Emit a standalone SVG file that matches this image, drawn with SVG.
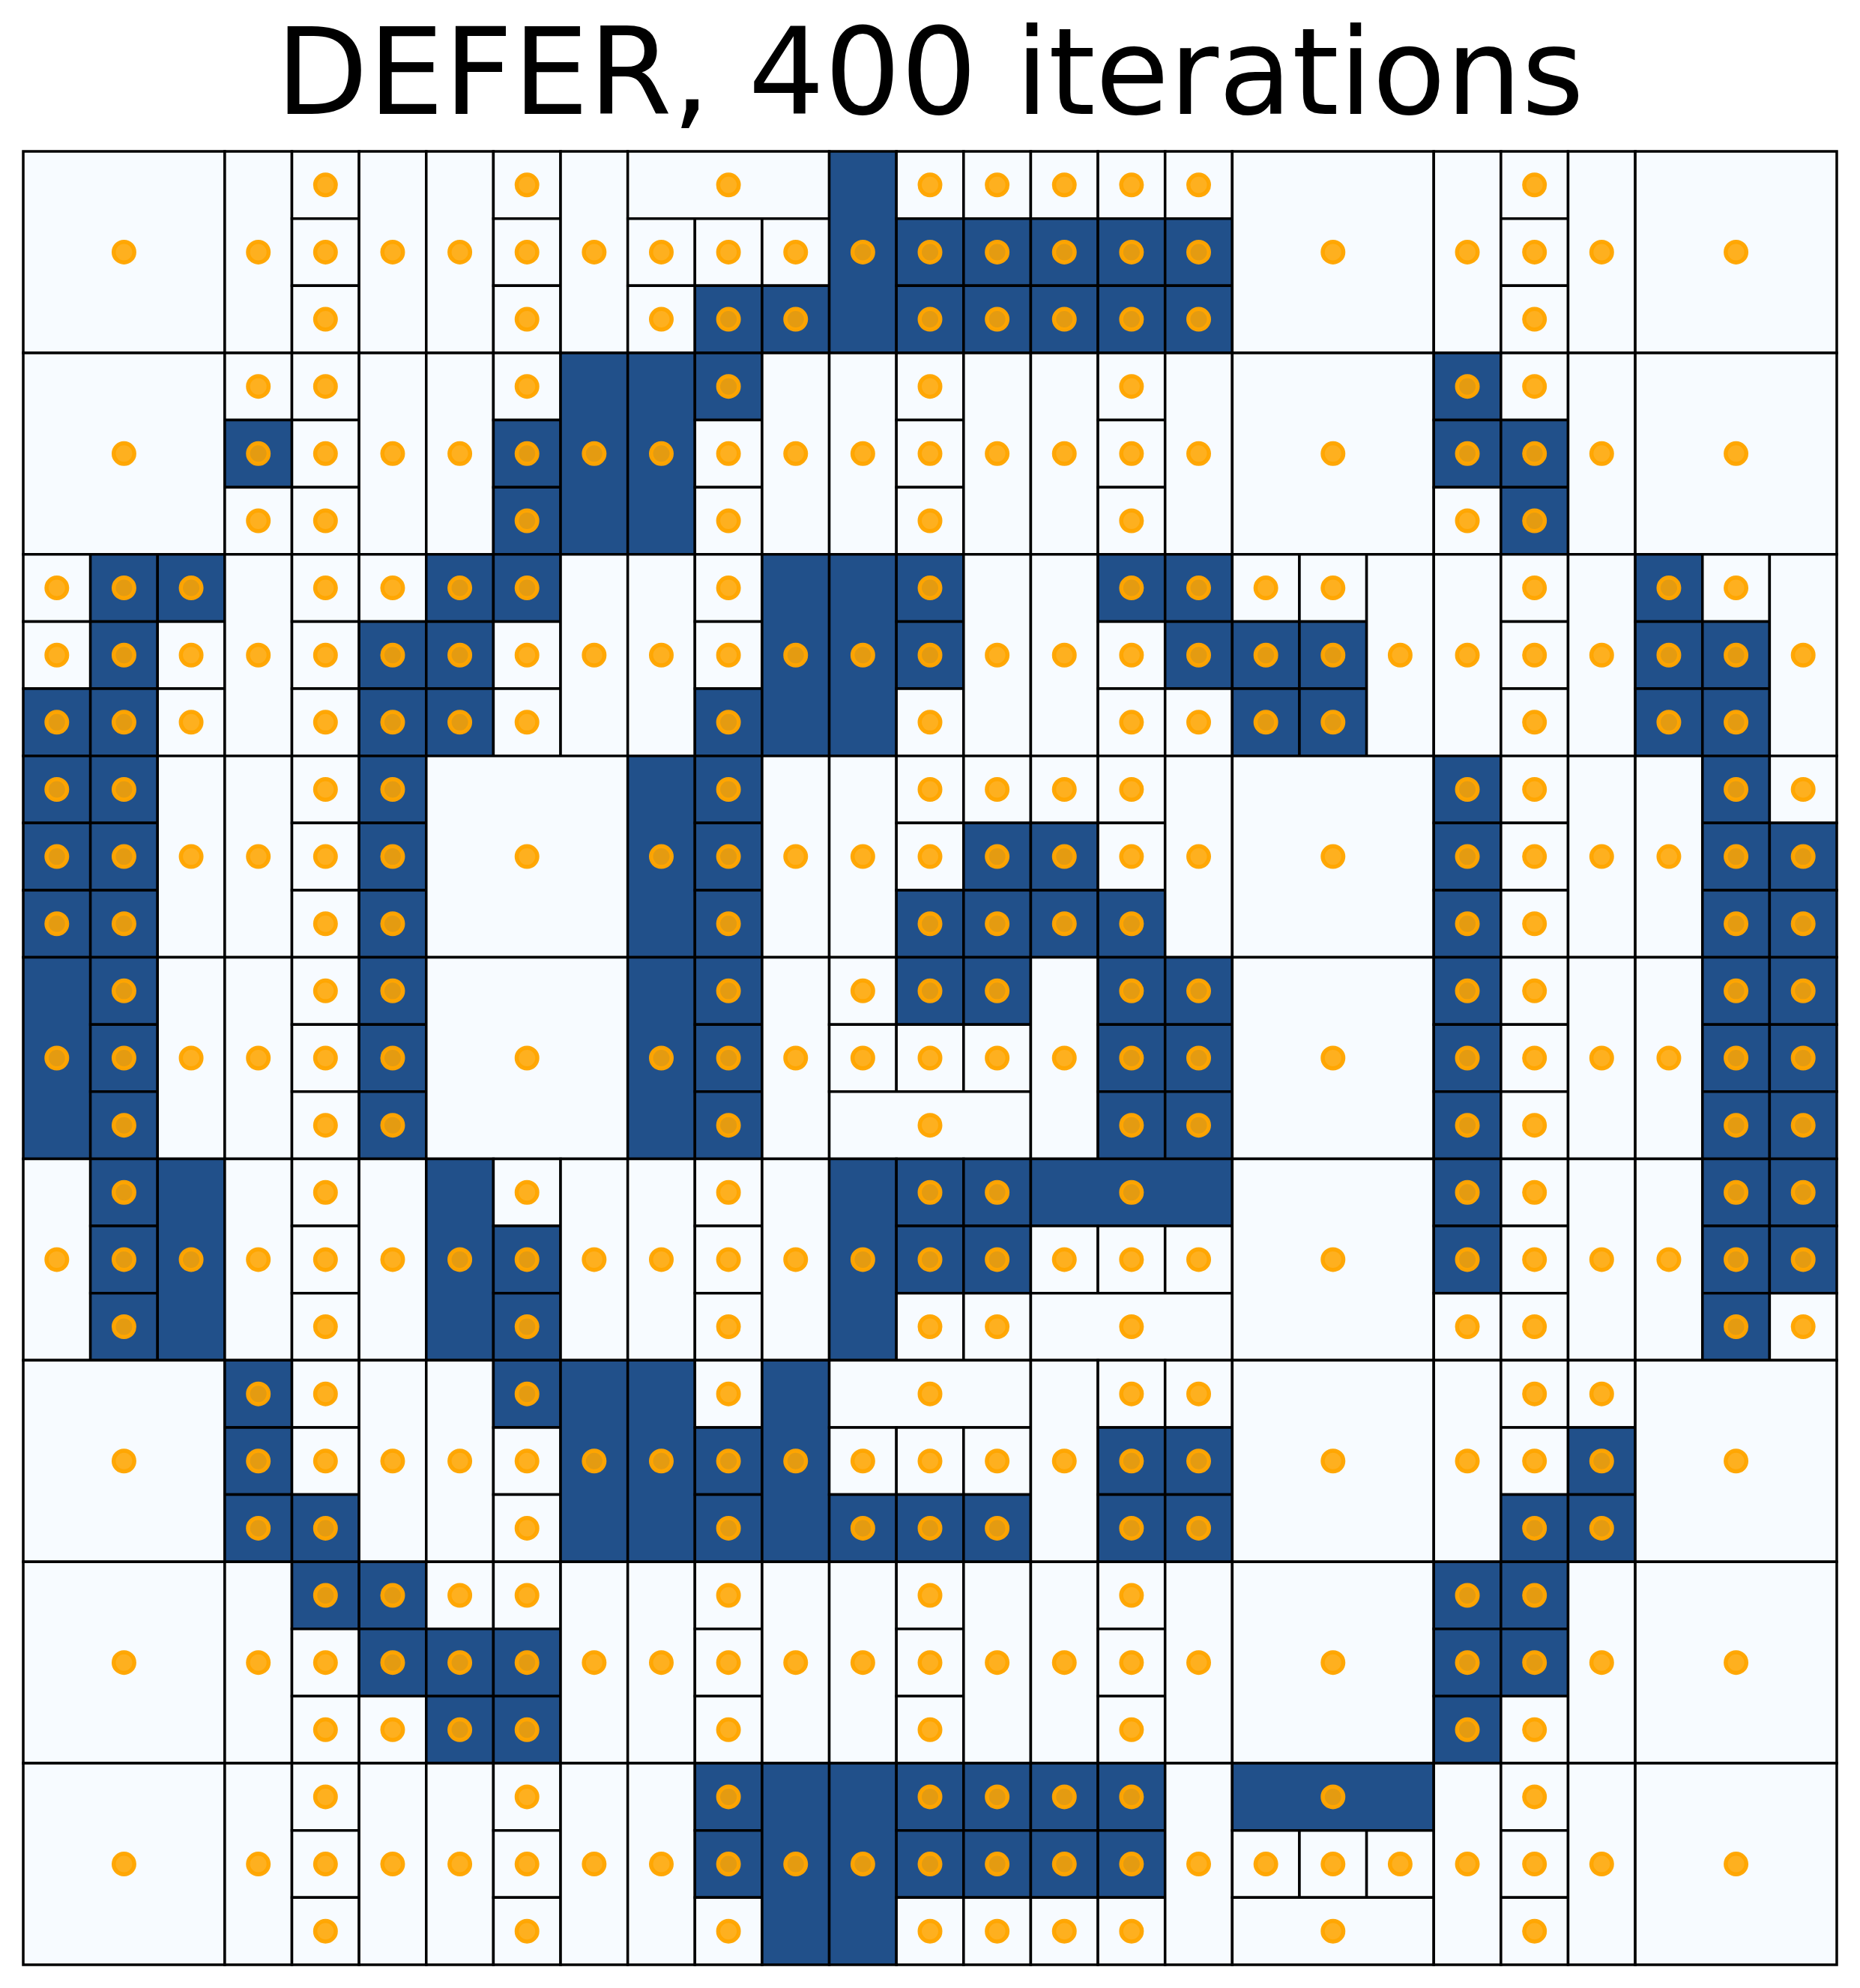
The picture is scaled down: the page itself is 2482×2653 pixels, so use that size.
<svg xmlns="http://www.w3.org/2000/svg" width="2482" height="2653" viewBox="0 0 2482 2653">
<style>
rect{stroke:#000;stroke-width:3.5;vector-effect:non-scaling-stroke}
.L{fill:#f7fbff}
.D{fill:#21508a}
circle{fill:#ffa500;fill-opacity:0.88;stroke:#ffa500;stroke-opacity:0.97;stroke-width:5.5;vector-effect:non-scaling-stroke}
.t{font-family:"DejaVu Sans","Liberation Sans",sans-serif;font-size:160px;fill:#000}
</style>
<rect x="0" y="0" width="2482" height="2653" fill="#ffffff" style="stroke:none"/>
<text class="t" x="1241" y="152" text-anchor="middle">DEFER, 400 iterations</text>
<g id="grid" transform="translate(31 202) scale(89.6296)">
<!-- big row 0 -->
<g id="c-0-0"><rect class="L" x="0" y="0" width="3" height="3"/><circle cx="1.5" cy="1.5" r="0.1534"/></g>
<g id="c-3-0"><rect class="L" x="3" y="0" width="1" height="3"/><circle cx="3.5" cy="1.5" r="0.1534"/></g>
<g id="c-4-0"><rect class="L" x="4" y="0" width="1" height="1"/><circle cx="4.5" cy="0.5" r="0.1534"/></g>
<g id="c-4-1"><rect class="L" x="4" y="1" width="1" height="1"/><circle cx="4.5" cy="1.5" r="0.1534"/></g>
<g id="c-4-2"><rect class="L" x="4" y="2" width="1" height="1"/><circle cx="4.5" cy="2.5" r="0.1534"/></g>
<g id="c-5-0"><rect class="L" x="5" y="0" width="1" height="3"/><circle cx="5.5" cy="1.5" r="0.1534"/></g>
<g id="c-6-0"><rect class="L" x="6" y="0" width="1" height="3"/><circle cx="6.5" cy="1.5" r="0.1534"/></g>
<g id="c-7-0"><rect class="L" x="7" y="0" width="1" height="1"/><circle cx="7.5" cy="0.5" r="0.1534"/></g>
<g id="c-7-1"><rect class="L" x="7" y="1" width="1" height="1"/><circle cx="7.5" cy="1.5" r="0.1534"/></g>
<g id="c-7-2"><rect class="L" x="7" y="2" width="1" height="1"/><circle cx="7.5" cy="2.5" r="0.1534"/></g>
<g id="c-8-0"><rect class="L" x="8" y="0" width="1" height="3"/><circle cx="8.5" cy="1.5" r="0.1534"/></g>
<g id="c-9-0"><rect class="L" x="9" y="0" width="3" height="1"/><circle cx="10.5" cy="0.5" r="0.1534"/></g>
<g id="c-9-1"><rect class="L" x="9" y="1" width="1" height="1"/><circle cx="9.5" cy="1.5" r="0.1534"/></g>
<g id="c-10-1"><rect class="L" x="10" y="1" width="1" height="1"/><circle cx="10.5" cy="1.5" r="0.1534"/></g>
<g id="c-11-1"><rect class="L" x="11" y="1" width="1" height="1"/><circle cx="11.5" cy="1.5" r="0.1534"/></g>
<g id="c-9-2"><rect class="L" x="9" y="2" width="1" height="1"/><circle cx="9.5" cy="2.5" r="0.1534"/></g>
<g id="c-10-2"><rect class="D" x="10" y="2" width="1" height="1"/><circle cx="10.5" cy="2.5" r="0.1534"/></g>
<g id="c-11-2"><rect class="D" x="11" y="2" width="1" height="1"/><circle cx="11.5" cy="2.5" r="0.1534"/></g>
<g id="c-12-0"><rect class="D" x="12" y="0" width="1" height="3"/><circle cx="12.5" cy="1.5" r="0.1534"/></g>
<g id="c-13-0"><rect class="L" x="13" y="0" width="1" height="1"/><circle cx="13.5" cy="0.5" r="0.1534"/></g>
<g id="c-13-1"><rect class="D" x="13" y="1" width="1" height="1"/><circle cx="13.5" cy="1.5" r="0.1534"/></g>
<g id="c-13-2"><rect class="D" x="13" y="2" width="1" height="1"/><circle cx="13.5" cy="2.5" r="0.1534"/></g>
<g id="c-14-0"><rect class="L" x="14" y="0" width="1" height="1"/><circle cx="14.5" cy="0.5" r="0.1534"/></g>
<g id="c-14-1"><rect class="D" x="14" y="1" width="1" height="1"/><circle cx="14.5" cy="1.5" r="0.1534"/></g>
<g id="c-14-2"><rect class="D" x="14" y="2" width="1" height="1"/><circle cx="14.5" cy="2.5" r="0.1534"/></g>
<g id="c-15-0"><rect class="L" x="15" y="0" width="1" height="1"/><circle cx="15.5" cy="0.5" r="0.1534"/></g>
<g id="c-15-1"><rect class="D" x="15" y="1" width="1" height="1"/><circle cx="15.5" cy="1.5" r="0.1534"/></g>
<g id="c-15-2"><rect class="D" x="15" y="2" width="1" height="1"/><circle cx="15.5" cy="2.5" r="0.1534"/></g>
<g id="c-16-0"><rect class="L" x="16" y="0" width="1" height="1"/><circle cx="16.5" cy="0.5" r="0.1534"/></g>
<g id="c-16-1"><rect class="D" x="16" y="1" width="1" height="1"/><circle cx="16.5" cy="1.5" r="0.1534"/></g>
<g id="c-16-2"><rect class="D" x="16" y="2" width="1" height="1"/><circle cx="16.5" cy="2.5" r="0.1534"/></g>
<g id="c-17-0"><rect class="L" x="17" y="0" width="1" height="1"/><circle cx="17.5" cy="0.5" r="0.1534"/></g>
<g id="c-17-1"><rect class="D" x="17" y="1" width="1" height="1"/><circle cx="17.5" cy="1.5" r="0.1534"/></g>
<g id="c-17-2"><rect class="D" x="17" y="2" width="1" height="1"/><circle cx="17.5" cy="2.5" r="0.1534"/></g>
<g id="c-18-0"><rect class="L" x="18" y="0" width="3" height="3"/><circle cx="19.5" cy="1.5" r="0.1534"/></g>
<g id="c-21-0"><rect class="L" x="21" y="0" width="1" height="3"/><circle cx="21.5" cy="1.5" r="0.1534"/></g>
<g id="c-22-0"><rect class="L" x="22" y="0" width="1" height="1"/><circle cx="22.5" cy="0.5" r="0.1534"/></g>
<g id="c-22-1"><rect class="L" x="22" y="1" width="1" height="1"/><circle cx="22.5" cy="1.5" r="0.1534"/></g>
<g id="c-22-2"><rect class="L" x="22" y="2" width="1" height="1"/><circle cx="22.5" cy="2.5" r="0.1534"/></g>
<g id="c-23-0"><rect class="L" x="23" y="0" width="1" height="3"/><circle cx="23.5" cy="1.5" r="0.1534"/></g>
<g id="c-24-0"><rect class="L" x="24" y="0" width="3" height="3"/><circle cx="25.5" cy="1.5" r="0.1534"/></g>
<!-- big row 1 -->
<g id="c-0-3"><rect class="L" x="0" y="3" width="3" height="3"/><circle cx="1.5" cy="4.5" r="0.1534"/></g>
<g id="c-3-3"><rect class="L" x="3" y="3" width="1" height="1"/><circle cx="3.5" cy="3.5" r="0.1534"/></g>
<g id="c-3-4"><rect class="D" x="3" y="4" width="1" height="1"/><circle cx="3.5" cy="4.5" r="0.1534"/></g>
<g id="c-3-5"><rect class="L" x="3" y="5" width="1" height="1"/><circle cx="3.5" cy="5.5" r="0.1534"/></g>
<g id="c-4-3"><rect class="L" x="4" y="3" width="1" height="1"/><circle cx="4.5" cy="3.5" r="0.1534"/></g>
<g id="c-4-4"><rect class="L" x="4" y="4" width="1" height="1"/><circle cx="4.5" cy="4.5" r="0.1534"/></g>
<g id="c-4-5"><rect class="L" x="4" y="5" width="1" height="1"/><circle cx="4.5" cy="5.5" r="0.1534"/></g>
<g id="c-5-3"><rect class="L" x="5" y="3" width="1" height="3"/><circle cx="5.5" cy="4.5" r="0.1534"/></g>
<g id="c-6-3"><rect class="L" x="6" y="3" width="1" height="3"/><circle cx="6.5" cy="4.5" r="0.1534"/></g>
<g id="c-7-3"><rect class="L" x="7" y="3" width="1" height="1"/><circle cx="7.5" cy="3.5" r="0.1534"/></g>
<g id="c-7-4"><rect class="D" x="7" y="4" width="1" height="1"/><circle cx="7.5" cy="4.5" r="0.1534"/></g>
<g id="c-7-5"><rect class="D" x="7" y="5" width="1" height="1"/><circle cx="7.5" cy="5.5" r="0.1534"/></g>
<g id="c-8-3"><rect class="D" x="8" y="3" width="1" height="3"/><circle cx="8.5" cy="4.5" r="0.1534"/></g>
<g id="c-9-3"><rect class="D" x="9" y="3" width="1" height="3"/><circle cx="9.5" cy="4.5" r="0.1534"/></g>
<g id="c-10-3"><rect class="D" x="10" y="3" width="1" height="1"/><circle cx="10.5" cy="3.5" r="0.1534"/></g>
<g id="c-10-4"><rect class="L" x="10" y="4" width="1" height="1"/><circle cx="10.5" cy="4.5" r="0.1534"/></g>
<g id="c-10-5"><rect class="L" x="10" y="5" width="1" height="1"/><circle cx="10.5" cy="5.5" r="0.1534"/></g>
<g id="c-11-3"><rect class="L" x="11" y="3" width="1" height="3"/><circle cx="11.5" cy="4.5" r="0.1534"/></g>
<g id="c-12-3"><rect class="L" x="12" y="3" width="1" height="3"/><circle cx="12.5" cy="4.5" r="0.1534"/></g>
<g id="c-13-3"><rect class="L" x="13" y="3" width="1" height="1"/><circle cx="13.5" cy="3.5" r="0.1534"/></g>
<g id="c-13-4"><rect class="L" x="13" y="4" width="1" height="1"/><circle cx="13.5" cy="4.5" r="0.1534"/></g>
<g id="c-13-5"><rect class="L" x="13" y="5" width="1" height="1"/><circle cx="13.5" cy="5.5" r="0.1534"/></g>
<g id="c-14-3"><rect class="L" x="14" y="3" width="1" height="3"/><circle cx="14.5" cy="4.5" r="0.1534"/></g>
<g id="c-15-3"><rect class="L" x="15" y="3" width="1" height="3"/><circle cx="15.5" cy="4.5" r="0.1534"/></g>
<g id="c-16-3"><rect class="L" x="16" y="3" width="1" height="1"/><circle cx="16.5" cy="3.5" r="0.1534"/></g>
<g id="c-16-4"><rect class="L" x="16" y="4" width="1" height="1"/><circle cx="16.5" cy="4.5" r="0.1534"/></g>
<g id="c-16-5"><rect class="L" x="16" y="5" width="1" height="1"/><circle cx="16.5" cy="5.5" r="0.1534"/></g>
<g id="c-17-3"><rect class="L" x="17" y="3" width="1" height="3"/><circle cx="17.5" cy="4.5" r="0.1534"/></g>
<g id="c-18-3"><rect class="L" x="18" y="3" width="3" height="3"/><circle cx="19.5" cy="4.5" r="0.1534"/></g>
<g id="c-21-3"><rect class="D" x="21" y="3" width="1" height="1"/><circle cx="21.5" cy="3.5" r="0.1534"/></g>
<g id="c-21-4"><rect class="D" x="21" y="4" width="1" height="1"/><circle cx="21.5" cy="4.5" r="0.1534"/></g>
<g id="c-21-5"><rect class="L" x="21" y="5" width="1" height="1"/><circle cx="21.5" cy="5.5" r="0.1534"/></g>
<g id="c-22-3"><rect class="L" x="22" y="3" width="1" height="1"/><circle cx="22.5" cy="3.5" r="0.1534"/></g>
<g id="c-22-4"><rect class="D" x="22" y="4" width="1" height="1"/><circle cx="22.5" cy="4.5" r="0.1534"/></g>
<g id="c-22-5"><rect class="D" x="22" y="5" width="1" height="1"/><circle cx="22.5" cy="5.5" r="0.1534"/></g>
<g id="c-23-3"><rect class="L" x="23" y="3" width="1" height="3"/><circle cx="23.5" cy="4.5" r="0.1534"/></g>
<g id="c-24-3"><rect class="L" x="24" y="3" width="3" height="3"/><circle cx="25.5" cy="4.5" r="0.1534"/></g>
<!-- big row 2 -->
<g id="c-0-6"><rect class="L" x="0" y="6" width="1" height="1"/><circle cx="0.5" cy="6.5" r="0.1534"/></g>
<g id="c-0-7"><rect class="L" x="0" y="7" width="1" height="1"/><circle cx="0.5" cy="7.5" r="0.1534"/></g>
<g id="c-0-8"><rect class="D" x="0" y="8" width="1" height="1"/><circle cx="0.5" cy="8.5" r="0.1534"/></g>
<g id="c-1-6"><rect class="D" x="1" y="6" width="1" height="1"/><circle cx="1.5" cy="6.5" r="0.1534"/></g>
<g id="c-1-7"><rect class="D" x="1" y="7" width="1" height="1"/><circle cx="1.5" cy="7.5" r="0.1534"/></g>
<g id="c-1-8"><rect class="D" x="1" y="8" width="1" height="1"/><circle cx="1.5" cy="8.5" r="0.1534"/></g>
<g id="c-2-6"><rect class="D" x="2" y="6" width="1" height="1"/><circle cx="2.5" cy="6.5" r="0.1534"/></g>
<g id="c-2-7"><rect class="L" x="2" y="7" width="1" height="1"/><circle cx="2.5" cy="7.5" r="0.1534"/></g>
<g id="c-2-8"><rect class="L" x="2" y="8" width="1" height="1"/><circle cx="2.5" cy="8.5" r="0.1534"/></g>
<g id="c-3-6"><rect class="L" x="3" y="6" width="1" height="3"/><circle cx="3.5" cy="7.5" r="0.1534"/></g>
<g id="c-4-6"><rect class="L" x="4" y="6" width="1" height="1"/><circle cx="4.5" cy="6.5" r="0.1534"/></g>
<g id="c-4-7"><rect class="L" x="4" y="7" width="1" height="1"/><circle cx="4.5" cy="7.5" r="0.1534"/></g>
<g id="c-4-8"><rect class="L" x="4" y="8" width="1" height="1"/><circle cx="4.5" cy="8.5" r="0.1534"/></g>
<g id="c-5-6"><rect class="L" x="5" y="6" width="1" height="1"/><circle cx="5.5" cy="6.5" r="0.1534"/></g>
<g id="c-5-7"><rect class="D" x="5" y="7" width="1" height="1"/><circle cx="5.5" cy="7.5" r="0.1534"/></g>
<g id="c-5-8"><rect class="D" x="5" y="8" width="1" height="1"/><circle cx="5.5" cy="8.5" r="0.1534"/></g>
<g id="c-6-6"><rect class="D" x="6" y="6" width="1" height="1"/><circle cx="6.5" cy="6.5" r="0.1534"/></g>
<g id="c-6-7"><rect class="D" x="6" y="7" width="1" height="1"/><circle cx="6.5" cy="7.5" r="0.1534"/></g>
<g id="c-6-8"><rect class="D" x="6" y="8" width="1" height="1"/><circle cx="6.5" cy="8.5" r="0.1534"/></g>
<g id="c-7-6"><rect class="D" x="7" y="6" width="1" height="1"/><circle cx="7.5" cy="6.5" r="0.1534"/></g>
<g id="c-7-7"><rect class="L" x="7" y="7" width="1" height="1"/><circle cx="7.5" cy="7.5" r="0.1534"/></g>
<g id="c-7-8"><rect class="L" x="7" y="8" width="1" height="1"/><circle cx="7.5" cy="8.5" r="0.1534"/></g>
<g id="c-8-6"><rect class="L" x="8" y="6" width="1" height="3"/><circle cx="8.5" cy="7.5" r="0.1534"/></g>
<g id="c-9-6"><rect class="L" x="9" y="6" width="1" height="3"/><circle cx="9.5" cy="7.5" r="0.1534"/></g>
<g id="c-10-6"><rect class="L" x="10" y="6" width="1" height="1"/><circle cx="10.5" cy="6.5" r="0.1534"/></g>
<g id="c-10-7"><rect class="L" x="10" y="7" width="1" height="1"/><circle cx="10.5" cy="7.5" r="0.1534"/></g>
<g id="c-10-8"><rect class="D" x="10" y="8" width="1" height="1"/><circle cx="10.5" cy="8.5" r="0.1534"/></g>
<g id="c-11-6"><rect class="D" x="11" y="6" width="1" height="3"/><circle cx="11.5" cy="7.5" r="0.1534"/></g>
<g id="c-12-6"><rect class="D" x="12" y="6" width="1" height="3"/><circle cx="12.5" cy="7.5" r="0.1534"/></g>
<g id="c-13-6"><rect class="D" x="13" y="6" width="1" height="1"/><circle cx="13.5" cy="6.5" r="0.1534"/></g>
<g id="c-13-7"><rect class="D" x="13" y="7" width="1" height="1"/><circle cx="13.5" cy="7.5" r="0.1534"/></g>
<g id="c-13-8"><rect class="L" x="13" y="8" width="1" height="1"/><circle cx="13.5" cy="8.5" r="0.1534"/></g>
<g id="c-14-6"><rect class="L" x="14" y="6" width="1" height="3"/><circle cx="14.5" cy="7.5" r="0.1534"/></g>
<g id="c-15-6"><rect class="L" x="15" y="6" width="1" height="3"/><circle cx="15.5" cy="7.5" r="0.1534"/></g>
<g id="c-16-6"><rect class="D" x="16" y="6" width="1" height="1"/><circle cx="16.5" cy="6.5" r="0.1534"/></g>
<g id="c-16-7"><rect class="L" x="16" y="7" width="1" height="1"/><circle cx="16.5" cy="7.5" r="0.1534"/></g>
<g id="c-16-8"><rect class="L" x="16" y="8" width="1" height="1"/><circle cx="16.5" cy="8.5" r="0.1534"/></g>
<g id="c-17-6"><rect class="D" x="17" y="6" width="1" height="1"/><circle cx="17.5" cy="6.5" r="0.1534"/></g>
<g id="c-17-7"><rect class="D" x="17" y="7" width="1" height="1"/><circle cx="17.5" cy="7.5" r="0.1534"/></g>
<g id="c-17-8"><rect class="L" x="17" y="8" width="1" height="1"/><circle cx="17.5" cy="8.5" r="0.1534"/></g>
<g id="c-18-6"><rect class="L" x="18" y="6" width="1" height="1"/><circle cx="18.5" cy="6.5" r="0.1534"/></g>
<g id="c-18-7"><rect class="D" x="18" y="7" width="1" height="1"/><circle cx="18.5" cy="7.5" r="0.1534"/></g>
<g id="c-18-8"><rect class="D" x="18" y="8" width="1" height="1"/><circle cx="18.5" cy="8.5" r="0.1534"/></g>
<g id="c-19-6"><rect class="L" x="19" y="6" width="1" height="1"/><circle cx="19.5" cy="6.5" r="0.1534"/></g>
<g id="c-19-7"><rect class="D" x="19" y="7" width="1" height="1"/><circle cx="19.5" cy="7.5" r="0.1534"/></g>
<g id="c-19-8"><rect class="D" x="19" y="8" width="1" height="1"/><circle cx="19.5" cy="8.5" r="0.1534"/></g>
<g id="c-20-6"><rect class="L" x="20" y="6" width="1" height="3"/><circle cx="20.5" cy="7.5" r="0.1534"/></g>
<g id="c-21-6"><rect class="L" x="21" y="6" width="1" height="3"/><circle cx="21.5" cy="7.5" r="0.1534"/></g>
<g id="c-22-6"><rect class="L" x="22" y="6" width="1" height="1"/><circle cx="22.5" cy="6.5" r="0.1534"/></g>
<g id="c-22-7"><rect class="L" x="22" y="7" width="1" height="1"/><circle cx="22.5" cy="7.5" r="0.1534"/></g>
<g id="c-22-8"><rect class="L" x="22" y="8" width="1" height="1"/><circle cx="22.5" cy="8.5" r="0.1534"/></g>
<g id="c-23-6"><rect class="L" x="23" y="6" width="1" height="3"/><circle cx="23.5" cy="7.5" r="0.1534"/></g>
<g id="c-24-6"><rect class="D" x="24" y="6" width="1" height="1"/><circle cx="24.5" cy="6.5" r="0.1534"/></g>
<g id="c-24-7"><rect class="D" x="24" y="7" width="1" height="1"/><circle cx="24.5" cy="7.5" r="0.1534"/></g>
<g id="c-24-8"><rect class="D" x="24" y="8" width="1" height="1"/><circle cx="24.5" cy="8.5" r="0.1534"/></g>
<g id="c-25-6"><rect class="L" x="25" y="6" width="1" height="1"/><circle cx="25.5" cy="6.5" r="0.1534"/></g>
<g id="c-25-7"><rect class="D" x="25" y="7" width="1" height="1"/><circle cx="25.5" cy="7.5" r="0.1534"/></g>
<g id="c-25-8"><rect class="D" x="25" y="8" width="1" height="1"/><circle cx="25.5" cy="8.5" r="0.1534"/></g>
<g id="c-26-6"><rect class="L" x="26" y="6" width="1" height="3"/><circle cx="26.5" cy="7.5" r="0.1534"/></g>
<!-- big row 3 -->
<g id="c-0-9"><rect class="D" x="0" y="9" width="1" height="1"/><circle cx="0.5" cy="9.5" r="0.1534"/></g>
<g id="c-0-10"><rect class="D" x="0" y="10" width="1" height="1"/><circle cx="0.5" cy="10.5" r="0.1534"/></g>
<g id="c-0-11"><rect class="D" x="0" y="11" width="1" height="1"/><circle cx="0.5" cy="11.5" r="0.1534"/></g>
<g id="c-1-9"><rect class="D" x="1" y="9" width="1" height="1"/><circle cx="1.5" cy="9.5" r="0.1534"/></g>
<g id="c-1-10"><rect class="D" x="1" y="10" width="1" height="1"/><circle cx="1.5" cy="10.5" r="0.1534"/></g>
<g id="c-1-11"><rect class="D" x="1" y="11" width="1" height="1"/><circle cx="1.5" cy="11.5" r="0.1534"/></g>
<g id="c-2-9"><rect class="L" x="2" y="9" width="1" height="3"/><circle cx="2.5" cy="10.5" r="0.1534"/></g>
<g id="c-3-9"><rect class="L" x="3" y="9" width="1" height="3"/><circle cx="3.5" cy="10.5" r="0.1534"/></g>
<g id="c-4-9"><rect class="L" x="4" y="9" width="1" height="1"/><circle cx="4.5" cy="9.5" r="0.1534"/></g>
<g id="c-4-10"><rect class="L" x="4" y="10" width="1" height="1"/><circle cx="4.5" cy="10.5" r="0.1534"/></g>
<g id="c-4-11"><rect class="L" x="4" y="11" width="1" height="1"/><circle cx="4.5" cy="11.5" r="0.1534"/></g>
<g id="c-5-9"><rect class="D" x="5" y="9" width="1" height="1"/><circle cx="5.5" cy="9.5" r="0.1534"/></g>
<g id="c-5-10"><rect class="D" x="5" y="10" width="1" height="1"/><circle cx="5.5" cy="10.5" r="0.1534"/></g>
<g id="c-5-11"><rect class="D" x="5" y="11" width="1" height="1"/><circle cx="5.5" cy="11.5" r="0.1534"/></g>
<g id="c-6-9"><rect class="L" x="6" y="9" width="3" height="3"/><circle cx="7.5" cy="10.5" r="0.1534"/></g>
<g id="c-9-9"><rect class="D" x="9" y="9" width="1" height="3"/><circle cx="9.5" cy="10.5" r="0.1534"/></g>
<g id="c-10-9"><rect class="D" x="10" y="9" width="1" height="1"/><circle cx="10.5" cy="9.5" r="0.1534"/></g>
<g id="c-10-10"><rect class="D" x="10" y="10" width="1" height="1"/><circle cx="10.5" cy="10.5" r="0.1534"/></g>
<g id="c-10-11"><rect class="D" x="10" y="11" width="1" height="1"/><circle cx="10.5" cy="11.5" r="0.1534"/></g>
<g id="c-11-9"><rect class="L" x="11" y="9" width="1" height="3"/><circle cx="11.5" cy="10.5" r="0.1534"/></g>
<g id="c-12-9"><rect class="L" x="12" y="9" width="1" height="3"/><circle cx="12.5" cy="10.5" r="0.1534"/></g>
<g id="c-13-9"><rect class="L" x="13" y="9" width="1" height="1"/><circle cx="13.5" cy="9.5" r="0.1534"/></g>
<g id="c-13-10"><rect class="L" x="13" y="10" width="1" height="1"/><circle cx="13.5" cy="10.5" r="0.1534"/></g>
<g id="c-13-11"><rect class="D" x="13" y="11" width="1" height="1"/><circle cx="13.5" cy="11.5" r="0.1534"/></g>
<g id="c-14-9"><rect class="L" x="14" y="9" width="1" height="1"/><circle cx="14.5" cy="9.5" r="0.1534"/></g>
<g id="c-14-10"><rect class="D" x="14" y="10" width="1" height="1"/><circle cx="14.5" cy="10.5" r="0.1534"/></g>
<g id="c-14-11"><rect class="D" x="14" y="11" width="1" height="1"/><circle cx="14.5" cy="11.5" r="0.1534"/></g>
<g id="c-15-9"><rect class="L" x="15" y="9" width="1" height="1"/><circle cx="15.5" cy="9.5" r="0.1534"/></g>
<g id="c-15-10"><rect class="D" x="15" y="10" width="1" height="1"/><circle cx="15.5" cy="10.5" r="0.1534"/></g>
<g id="c-15-11"><rect class="D" x="15" y="11" width="1" height="1"/><circle cx="15.5" cy="11.5" r="0.1534"/></g>
<g id="c-16-9"><rect class="L" x="16" y="9" width="1" height="1"/><circle cx="16.5" cy="9.5" r="0.1534"/></g>
<g id="c-16-10"><rect class="L" x="16" y="10" width="1" height="1"/><circle cx="16.5" cy="10.5" r="0.1534"/></g>
<g id="c-16-11"><rect class="D" x="16" y="11" width="1" height="1"/><circle cx="16.5" cy="11.5" r="0.1534"/></g>
<g id="c-17-9"><rect class="L" x="17" y="9" width="1" height="3"/><circle cx="17.5" cy="10.5" r="0.1534"/></g>
<g id="c-18-9"><rect class="L" x="18" y="9" width="3" height="3"/><circle cx="19.5" cy="10.5" r="0.1534"/></g>
<g id="c-21-9"><rect class="D" x="21" y="9" width="1" height="1"/><circle cx="21.5" cy="9.5" r="0.1534"/></g>
<g id="c-21-10"><rect class="D" x="21" y="10" width="1" height="1"/><circle cx="21.5" cy="10.5" r="0.1534"/></g>
<g id="c-21-11"><rect class="D" x="21" y="11" width="1" height="1"/><circle cx="21.5" cy="11.5" r="0.1534"/></g>
<g id="c-22-9"><rect class="L" x="22" y="9" width="1" height="1"/><circle cx="22.5" cy="9.5" r="0.1534"/></g>
<g id="c-22-10"><rect class="L" x="22" y="10" width="1" height="1"/><circle cx="22.5" cy="10.5" r="0.1534"/></g>
<g id="c-22-11"><rect class="L" x="22" y="11" width="1" height="1"/><circle cx="22.5" cy="11.5" r="0.1534"/></g>
<g id="c-23-9"><rect class="L" x="23" y="9" width="1" height="3"/><circle cx="23.5" cy="10.5" r="0.1534"/></g>
<g id="c-24-9"><rect class="L" x="24" y="9" width="1" height="3"/><circle cx="24.5" cy="10.5" r="0.1534"/></g>
<g id="c-25-9"><rect class="D" x="25" y="9" width="1" height="1"/><circle cx="25.5" cy="9.5" r="0.1534"/></g>
<g id="c-25-10"><rect class="D" x="25" y="10" width="1" height="1"/><circle cx="25.5" cy="10.5" r="0.1534"/></g>
<g id="c-25-11"><rect class="D" x="25" y="11" width="1" height="1"/><circle cx="25.5" cy="11.5" r="0.1534"/></g>
<g id="c-26-9"><rect class="L" x="26" y="9" width="1" height="1"/><circle cx="26.5" cy="9.5" r="0.1534"/></g>
<g id="c-26-10"><rect class="D" x="26" y="10" width="1" height="1"/><circle cx="26.5" cy="10.5" r="0.1534"/></g>
<g id="c-26-11"><rect class="D" x="26" y="11" width="1" height="1"/><circle cx="26.5" cy="11.5" r="0.1534"/></g>
<!-- big row 4 -->
<g id="c-0-12"><rect class="D" x="0" y="12" width="1" height="3"/><circle cx="0.5" cy="13.5" r="0.1534"/></g>
<g id="c-1-12"><rect class="D" x="1" y="12" width="1" height="1"/><circle cx="1.5" cy="12.5" r="0.1534"/></g>
<g id="c-1-13"><rect class="D" x="1" y="13" width="1" height="1"/><circle cx="1.5" cy="13.5" r="0.1534"/></g>
<g id="c-1-14"><rect class="D" x="1" y="14" width="1" height="1"/><circle cx="1.5" cy="14.5" r="0.1534"/></g>
<g id="c-2-12"><rect class="L" x="2" y="12" width="1" height="3"/><circle cx="2.5" cy="13.5" r="0.1534"/></g>
<g id="c-3-12"><rect class="L" x="3" y="12" width="1" height="3"/><circle cx="3.5" cy="13.5" r="0.1534"/></g>
<g id="c-4-12"><rect class="L" x="4" y="12" width="1" height="1"/><circle cx="4.5" cy="12.5" r="0.1534"/></g>
<g id="c-4-13"><rect class="L" x="4" y="13" width="1" height="1"/><circle cx="4.5" cy="13.5" r="0.1534"/></g>
<g id="c-4-14"><rect class="L" x="4" y="14" width="1" height="1"/><circle cx="4.5" cy="14.5" r="0.1534"/></g>
<g id="c-5-12"><rect class="D" x="5" y="12" width="1" height="1"/><circle cx="5.5" cy="12.5" r="0.1534"/></g>
<g id="c-5-13"><rect class="D" x="5" y="13" width="1" height="1"/><circle cx="5.5" cy="13.5" r="0.1534"/></g>
<g id="c-5-14"><rect class="D" x="5" y="14" width="1" height="1"/><circle cx="5.5" cy="14.5" r="0.1534"/></g>
<g id="c-6-12"><rect class="L" x="6" y="12" width="3" height="3"/><circle cx="7.5" cy="13.5" r="0.1534"/></g>
<g id="c-9-12"><rect class="D" x="9" y="12" width="1" height="3"/><circle cx="9.5" cy="13.5" r="0.1534"/></g>
<g id="c-10-12"><rect class="D" x="10" y="12" width="1" height="1"/><circle cx="10.5" cy="12.5" r="0.1534"/></g>
<g id="c-10-13"><rect class="D" x="10" y="13" width="1" height="1"/><circle cx="10.5" cy="13.5" r="0.1534"/></g>
<g id="c-10-14"><rect class="D" x="10" y="14" width="1" height="1"/><circle cx="10.5" cy="14.5" r="0.1534"/></g>
<g id="c-11-12"><rect class="L" x="11" y="12" width="1" height="3"/><circle cx="11.5" cy="13.5" r="0.1534"/></g>
<g id="c-12-12"><rect class="L" x="12" y="12" width="1" height="1"/><circle cx="12.5" cy="12.5" r="0.1534"/></g>
<g id="c-13-12"><rect class="D" x="13" y="12" width="1" height="1"/><circle cx="13.5" cy="12.5" r="0.1534"/></g>
<g id="c-14-12"><rect class="D" x="14" y="12" width="1" height="1"/><circle cx="14.5" cy="12.5" r="0.1534"/></g>
<g id="c-12-13"><rect class="L" x="12" y="13" width="1" height="1"/><circle cx="12.5" cy="13.5" r="0.1534"/></g>
<g id="c-13-13"><rect class="L" x="13" y="13" width="1" height="1"/><circle cx="13.5" cy="13.5" r="0.1534"/></g>
<g id="c-14-13"><rect class="L" x="14" y="13" width="1" height="1"/><circle cx="14.5" cy="13.5" r="0.1534"/></g>
<g id="c-12-14"><rect class="L" x="12" y="14" width="3" height="1"/><circle cx="13.5" cy="14.5" r="0.1534"/></g>
<g id="c-15-12"><rect class="L" x="15" y="12" width="1" height="3"/><circle cx="15.5" cy="13.5" r="0.1534"/></g>
<g id="c-16-12"><rect class="D" x="16" y="12" width="1" height="1"/><circle cx="16.5" cy="12.5" r="0.1534"/></g>
<g id="c-16-13"><rect class="D" x="16" y="13" width="1" height="1"/><circle cx="16.5" cy="13.5" r="0.1534"/></g>
<g id="c-16-14"><rect class="D" x="16" y="14" width="1" height="1"/><circle cx="16.5" cy="14.5" r="0.1534"/></g>
<g id="c-17-12"><rect class="D" x="17" y="12" width="1" height="1"/><circle cx="17.5" cy="12.5" r="0.1534"/></g>
<g id="c-17-13"><rect class="D" x="17" y="13" width="1" height="1"/><circle cx="17.5" cy="13.5" r="0.1534"/></g>
<g id="c-17-14"><rect class="D" x="17" y="14" width="1" height="1"/><circle cx="17.5" cy="14.5" r="0.1534"/></g>
<g id="c-18-12"><rect class="L" x="18" y="12" width="3" height="3"/><circle cx="19.5" cy="13.5" r="0.1534"/></g>
<g id="c-21-12"><rect class="D" x="21" y="12" width="1" height="1"/><circle cx="21.5" cy="12.5" r="0.1534"/></g>
<g id="c-21-13"><rect class="D" x="21" y="13" width="1" height="1"/><circle cx="21.5" cy="13.5" r="0.1534"/></g>
<g id="c-21-14"><rect class="D" x="21" y="14" width="1" height="1"/><circle cx="21.5" cy="14.5" r="0.1534"/></g>
<g id="c-22-12"><rect class="L" x="22" y="12" width="1" height="1"/><circle cx="22.5" cy="12.5" r="0.1534"/></g>
<g id="c-22-13"><rect class="L" x="22" y="13" width="1" height="1"/><circle cx="22.5" cy="13.5" r="0.1534"/></g>
<g id="c-22-14"><rect class="L" x="22" y="14" width="1" height="1"/><circle cx="22.5" cy="14.5" r="0.1534"/></g>
<g id="c-23-12"><rect class="L" x="23" y="12" width="1" height="3"/><circle cx="23.5" cy="13.5" r="0.1534"/></g>
<g id="c-24-12"><rect class="L" x="24" y="12" width="1" height="3"/><circle cx="24.5" cy="13.5" r="0.1534"/></g>
<g id="c-25-12"><rect class="D" x="25" y="12" width="1" height="1"/><circle cx="25.5" cy="12.5" r="0.1534"/></g>
<g id="c-25-13"><rect class="D" x="25" y="13" width="1" height="1"/><circle cx="25.5" cy="13.5" r="0.1534"/></g>
<g id="c-25-14"><rect class="D" x="25" y="14" width="1" height="1"/><circle cx="25.5" cy="14.5" r="0.1534"/></g>
<g id="c-26-12"><rect class="D" x="26" y="12" width="1" height="1"/><circle cx="26.5" cy="12.5" r="0.1534"/></g>
<g id="c-26-13"><rect class="D" x="26" y="13" width="1" height="1"/><circle cx="26.5" cy="13.5" r="0.1534"/></g>
<g id="c-26-14"><rect class="D" x="26" y="14" width="1" height="1"/><circle cx="26.5" cy="14.5" r="0.1534"/></g>
<!-- big row 5 -->
<g id="c-0-15"><rect class="L" x="0" y="15" width="1" height="3"/><circle cx="0.5" cy="16.5" r="0.1534"/></g>
<g id="c-1-15"><rect class="D" x="1" y="15" width="1" height="1"/><circle cx="1.5" cy="15.5" r="0.1534"/></g>
<g id="c-1-16"><rect class="D" x="1" y="16" width="1" height="1"/><circle cx="1.5" cy="16.5" r="0.1534"/></g>
<g id="c-1-17"><rect class="D" x="1" y="17" width="1" height="1"/><circle cx="1.5" cy="17.5" r="0.1534"/></g>
<g id="c-2-15"><rect class="D" x="2" y="15" width="1" height="3"/><circle cx="2.5" cy="16.5" r="0.1534"/></g>
<g id="c-3-15"><rect class="L" x="3" y="15" width="1" height="3"/><circle cx="3.5" cy="16.5" r="0.1534"/></g>
<g id="c-4-15"><rect class="L" x="4" y="15" width="1" height="1"/><circle cx="4.5" cy="15.5" r="0.1534"/></g>
<g id="c-4-16"><rect class="L" x="4" y="16" width="1" height="1"/><circle cx="4.5" cy="16.5" r="0.1534"/></g>
<g id="c-4-17"><rect class="L" x="4" y="17" width="1" height="1"/><circle cx="4.5" cy="17.5" r="0.1534"/></g>
<g id="c-5-15"><rect class="L" x="5" y="15" width="1" height="3"/><circle cx="5.5" cy="16.5" r="0.1534"/></g>
<g id="c-6-15"><rect class="D" x="6" y="15" width="1" height="3"/><circle cx="6.5" cy="16.5" r="0.1534"/></g>
<g id="c-7-15"><rect class="L" x="7" y="15" width="1" height="1"/><circle cx="7.5" cy="15.5" r="0.1534"/></g>
<g id="c-7-16"><rect class="D" x="7" y="16" width="1" height="1"/><circle cx="7.5" cy="16.5" r="0.1534"/></g>
<g id="c-7-17"><rect class="D" x="7" y="17" width="1" height="1"/><circle cx="7.5" cy="17.5" r="0.1534"/></g>
<g id="c-8-15"><rect class="L" x="8" y="15" width="1" height="3"/><circle cx="8.5" cy="16.5" r="0.1534"/></g>
<g id="c-9-15"><rect class="L" x="9" y="15" width="1" height="3"/><circle cx="9.5" cy="16.5" r="0.1534"/></g>
<g id="c-10-15"><rect class="L" x="10" y="15" width="1" height="1"/><circle cx="10.5" cy="15.5" r="0.1534"/></g>
<g id="c-10-16"><rect class="L" x="10" y="16" width="1" height="1"/><circle cx="10.5" cy="16.5" r="0.1534"/></g>
<g id="c-10-17"><rect class="L" x="10" y="17" width="1" height="1"/><circle cx="10.5" cy="17.5" r="0.1534"/></g>
<g id="c-11-15"><rect class="L" x="11" y="15" width="1" height="3"/><circle cx="11.5" cy="16.5" r="0.1534"/></g>
<g id="c-12-15"><rect class="D" x="12" y="15" width="1" height="3"/><circle cx="12.5" cy="16.5" r="0.1534"/></g>
<g id="c-13-15"><rect class="D" x="13" y="15" width="1" height="1"/><circle cx="13.5" cy="15.5" r="0.1534"/></g>
<g id="c-13-16"><rect class="D" x="13" y="16" width="1" height="1"/><circle cx="13.5" cy="16.5" r="0.1534"/></g>
<g id="c-13-17"><rect class="L" x="13" y="17" width="1" height="1"/><circle cx="13.5" cy="17.5" r="0.1534"/></g>
<g id="c-14-15"><rect class="D" x="14" y="15" width="1" height="1"/><circle cx="14.5" cy="15.5" r="0.1534"/></g>
<g id="c-14-16"><rect class="D" x="14" y="16" width="1" height="1"/><circle cx="14.5" cy="16.5" r="0.1534"/></g>
<g id="c-14-17"><rect class="L" x="14" y="17" width="1" height="1"/><circle cx="14.5" cy="17.5" r="0.1534"/></g>
<g id="c-15-15"><rect class="D" x="15" y="15" width="3" height="1"/><circle cx="16.5" cy="15.5" r="0.1534"/></g>
<g id="c-15-16"><rect class="L" x="15" y="16" width="1" height="1"/><circle cx="15.5" cy="16.5" r="0.1534"/></g>
<g id="c-16-16"><rect class="L" x="16" y="16" width="1" height="1"/><circle cx="16.5" cy="16.5" r="0.1534"/></g>
<g id="c-17-16"><rect class="L" x="17" y="16" width="1" height="1"/><circle cx="17.5" cy="16.5" r="0.1534"/></g>
<g id="c-15-17"><rect class="L" x="15" y="17" width="3" height="1"/><circle cx="16.5" cy="17.5" r="0.1534"/></g>
<g id="c-18-15"><rect class="L" x="18" y="15" width="3" height="3"/><circle cx="19.5" cy="16.5" r="0.1534"/></g>
<g id="c-21-15"><rect class="D" x="21" y="15" width="1" height="1"/><circle cx="21.5" cy="15.5" r="0.1534"/></g>
<g id="c-21-16"><rect class="D" x="21" y="16" width="1" height="1"/><circle cx="21.5" cy="16.5" r="0.1534"/></g>
<g id="c-21-17"><rect class="L" x="21" y="17" width="1" height="1"/><circle cx="21.5" cy="17.5" r="0.1534"/></g>
<g id="c-22-15"><rect class="L" x="22" y="15" width="1" height="1"/><circle cx="22.5" cy="15.5" r="0.1534"/></g>
<g id="c-22-16"><rect class="L" x="22" y="16" width="1" height="1"/><circle cx="22.5" cy="16.5" r="0.1534"/></g>
<g id="c-22-17"><rect class="L" x="22" y="17" width="1" height="1"/><circle cx="22.5" cy="17.5" r="0.1534"/></g>
<g id="c-23-15"><rect class="L" x="23" y="15" width="1" height="3"/><circle cx="23.5" cy="16.5" r="0.1534"/></g>
<g id="c-24-15"><rect class="L" x="24" y="15" width="1" height="3"/><circle cx="24.5" cy="16.5" r="0.1534"/></g>
<g id="c-25-15"><rect class="D" x="25" y="15" width="1" height="1"/><circle cx="25.5" cy="15.5" r="0.1534"/></g>
<g id="c-25-16"><rect class="D" x="25" y="16" width="1" height="1"/><circle cx="25.5" cy="16.5" r="0.1534"/></g>
<g id="c-25-17"><rect class="D" x="25" y="17" width="1" height="1"/><circle cx="25.5" cy="17.5" r="0.1534"/></g>
<g id="c-26-15"><rect class="D" x="26" y="15" width="1" height="1"/><circle cx="26.5" cy="15.5" r="0.1534"/></g>
<g id="c-26-16"><rect class="D" x="26" y="16" width="1" height="1"/><circle cx="26.5" cy="16.5" r="0.1534"/></g>
<g id="c-26-17"><rect class="L" x="26" y="17" width="1" height="1"/><circle cx="26.5" cy="17.5" r="0.1534"/></g>
<!-- big row 6 -->
<g id="c-0-18"><rect class="L" x="0" y="18" width="3" height="3"/><circle cx="1.5" cy="19.5" r="0.1534"/></g>
<g id="c-3-18"><rect class="D" x="3" y="18" width="1" height="1"/><circle cx="3.5" cy="18.5" r="0.1534"/></g>
<g id="c-3-19"><rect class="D" x="3" y="19" width="1" height="1"/><circle cx="3.5" cy="19.5" r="0.1534"/></g>
<g id="c-3-20"><rect class="D" x="3" y="20" width="1" height="1"/><circle cx="3.5" cy="20.5" r="0.1534"/></g>
<g id="c-4-18"><rect class="L" x="4" y="18" width="1" height="1"/><circle cx="4.5" cy="18.5" r="0.1534"/></g>
<g id="c-4-19"><rect class="L" x="4" y="19" width="1" height="1"/><circle cx="4.5" cy="19.5" r="0.1534"/></g>
<g id="c-4-20"><rect class="D" x="4" y="20" width="1" height="1"/><circle cx="4.5" cy="20.5" r="0.1534"/></g>
<g id="c-5-18"><rect class="L" x="5" y="18" width="1" height="3"/><circle cx="5.5" cy="19.5" r="0.1534"/></g>
<g id="c-6-18"><rect class="L" x="6" y="18" width="1" height="3"/><circle cx="6.5" cy="19.5" r="0.1534"/></g>
<g id="c-7-18"><rect class="D" x="7" y="18" width="1" height="1"/><circle cx="7.5" cy="18.5" r="0.1534"/></g>
<g id="c-7-19"><rect class="L" x="7" y="19" width="1" height="1"/><circle cx="7.5" cy="19.5" r="0.1534"/></g>
<g id="c-7-20"><rect class="L" x="7" y="20" width="1" height="1"/><circle cx="7.5" cy="20.5" r="0.1534"/></g>
<g id="c-8-18"><rect class="D" x="8" y="18" width="1" height="3"/><circle cx="8.5" cy="19.5" r="0.1534"/></g>
<g id="c-9-18"><rect class="D" x="9" y="18" width="1" height="3"/><circle cx="9.5" cy="19.5" r="0.1534"/></g>
<g id="c-10-18"><rect class="L" x="10" y="18" width="1" height="1"/><circle cx="10.5" cy="18.5" r="0.1534"/></g>
<g id="c-10-19"><rect class="D" x="10" y="19" width="1" height="1"/><circle cx="10.5" cy="19.5" r="0.1534"/></g>
<g id="c-10-20"><rect class="D" x="10" y="20" width="1" height="1"/><circle cx="10.5" cy="20.5" r="0.1534"/></g>
<g id="c-11-18"><rect class="D" x="11" y="18" width="1" height="3"/><circle cx="11.5" cy="19.5" r="0.1534"/></g>
<g id="c-12-18"><rect class="L" x="12" y="18" width="3" height="1"/><circle cx="13.5" cy="18.5" r="0.1534"/></g>
<g id="c-12-19"><rect class="L" x="12" y="19" width="1" height="1"/><circle cx="12.5" cy="19.5" r="0.1534"/></g>
<g id="c-13-19"><rect class="L" x="13" y="19" width="1" height="1"/><circle cx="13.5" cy="19.5" r="0.1534"/></g>
<g id="c-14-19"><rect class="L" x="14" y="19" width="1" height="1"/><circle cx="14.5" cy="19.5" r="0.1534"/></g>
<g id="c-12-20"><rect class="D" x="12" y="20" width="1" height="1"/><circle cx="12.5" cy="20.5" r="0.1534"/></g>
<g id="c-13-20"><rect class="D" x="13" y="20" width="1" height="1"/><circle cx="13.5" cy="20.5" r="0.1534"/></g>
<g id="c-14-20"><rect class="D" x="14" y="20" width="1" height="1"/><circle cx="14.5" cy="20.5" r="0.1534"/></g>
<g id="c-15-18"><rect class="L" x="15" y="18" width="1" height="3"/><circle cx="15.5" cy="19.5" r="0.1534"/></g>
<g id="c-16-18"><rect class="L" x="16" y="18" width="1" height="1"/><circle cx="16.5" cy="18.5" r="0.1534"/></g>
<g id="c-16-19"><rect class="D" x="16" y="19" width="1" height="1"/><circle cx="16.5" cy="19.5" r="0.1534"/></g>
<g id="c-16-20"><rect class="D" x="16" y="20" width="1" height="1"/><circle cx="16.5" cy="20.5" r="0.1534"/></g>
<g id="c-17-18"><rect class="L" x="17" y="18" width="1" height="1"/><circle cx="17.5" cy="18.5" r="0.1534"/></g>
<g id="c-17-19"><rect class="D" x="17" y="19" width="1" height="1"/><circle cx="17.5" cy="19.5" r="0.1534"/></g>
<g id="c-17-20"><rect class="D" x="17" y="20" width="1" height="1"/><circle cx="17.5" cy="20.5" r="0.1534"/></g>
<g id="c-18-18"><rect class="L" x="18" y="18" width="3" height="3"/><circle cx="19.5" cy="19.5" r="0.1534"/></g>
<g id="c-21-18"><rect class="L" x="21" y="18" width="1" height="3"/><circle cx="21.5" cy="19.5" r="0.1534"/></g>
<g id="c-22-18"><rect class="L" x="22" y="18" width="1" height="1"/><circle cx="22.5" cy="18.5" r="0.1534"/></g>
<g id="c-22-19"><rect class="L" x="22" y="19" width="1" height="1"/><circle cx="22.5" cy="19.5" r="0.1534"/></g>
<g id="c-22-20"><rect class="D" x="22" y="20" width="1" height="1"/><circle cx="22.5" cy="20.5" r="0.1534"/></g>
<g id="c-23-18"><rect class="L" x="23" y="18" width="1" height="1"/><circle cx="23.5" cy="18.5" r="0.1534"/></g>
<g id="c-23-19"><rect class="D" x="23" y="19" width="1" height="1"/><circle cx="23.5" cy="19.5" r="0.1534"/></g>
<g id="c-23-20"><rect class="D" x="23" y="20" width="1" height="1"/><circle cx="23.5" cy="20.5" r="0.1534"/></g>
<g id="c-24-18"><rect class="L" x="24" y="18" width="3" height="3"/><circle cx="25.5" cy="19.5" r="0.1534"/></g>
<!-- big row 7 -->
<g id="c-0-21"><rect class="L" x="0" y="21" width="3" height="3"/><circle cx="1.5" cy="22.5" r="0.1534"/></g>
<g id="c-3-21"><rect class="L" x="3" y="21" width="1" height="3"/><circle cx="3.5" cy="22.5" r="0.1534"/></g>
<g id="c-4-21"><rect class="D" x="4" y="21" width="1" height="1"/><circle cx="4.5" cy="21.5" r="0.1534"/></g>
<g id="c-4-22"><rect class="L" x="4" y="22" width="1" height="1"/><circle cx="4.5" cy="22.5" r="0.1534"/></g>
<g id="c-4-23"><rect class="L" x="4" y="23" width="1" height="1"/><circle cx="4.5" cy="23.5" r="0.1534"/></g>
<g id="c-5-21"><rect class="D" x="5" y="21" width="1" height="1"/><circle cx="5.5" cy="21.5" r="0.1534"/></g>
<g id="c-5-22"><rect class="D" x="5" y="22" width="1" height="1"/><circle cx="5.5" cy="22.5" r="0.1534"/></g>
<g id="c-5-23"><rect class="L" x="5" y="23" width="1" height="1"/><circle cx="5.5" cy="23.5" r="0.1534"/></g>
<g id="c-6-21"><rect class="L" x="6" y="21" width="1" height="1"/><circle cx="6.5" cy="21.5" r="0.1534"/></g>
<g id="c-6-22"><rect class="D" x="6" y="22" width="1" height="1"/><circle cx="6.5" cy="22.5" r="0.1534"/></g>
<g id="c-6-23"><rect class="D" x="6" y="23" width="1" height="1"/><circle cx="6.5" cy="23.5" r="0.1534"/></g>
<g id="c-7-21"><rect class="L" x="7" y="21" width="1" height="1"/><circle cx="7.5" cy="21.5" r="0.1534"/></g>
<g id="c-7-22"><rect class="D" x="7" y="22" width="1" height="1"/><circle cx="7.5" cy="22.5" r="0.1534"/></g>
<g id="c-7-23"><rect class="D" x="7" y="23" width="1" height="1"/><circle cx="7.5" cy="23.5" r="0.1534"/></g>
<g id="c-8-21"><rect class="L" x="8" y="21" width="1" height="3"/><circle cx="8.5" cy="22.5" r="0.1534"/></g>
<g id="c-9-21"><rect class="L" x="9" y="21" width="1" height="3"/><circle cx="9.5" cy="22.5" r="0.1534"/></g>
<g id="c-10-21"><rect class="L" x="10" y="21" width="1" height="1"/><circle cx="10.5" cy="21.5" r="0.1534"/></g>
<g id="c-10-22"><rect class="L" x="10" y="22" width="1" height="1"/><circle cx="10.5" cy="22.5" r="0.1534"/></g>
<g id="c-10-23"><rect class="L" x="10" y="23" width="1" height="1"/><circle cx="10.5" cy="23.5" r="0.1534"/></g>
<g id="c-11-21"><rect class="L" x="11" y="21" width="1" height="3"/><circle cx="11.5" cy="22.5" r="0.1534"/></g>
<g id="c-12-21"><rect class="L" x="12" y="21" width="1" height="3"/><circle cx="12.5" cy="22.5" r="0.1534"/></g>
<g id="c-13-21"><rect class="L" x="13" y="21" width="1" height="1"/><circle cx="13.5" cy="21.5" r="0.1534"/></g>
<g id="c-13-22"><rect class="L" x="13" y="22" width="1" height="1"/><circle cx="13.5" cy="22.5" r="0.1534"/></g>
<g id="c-13-23"><rect class="L" x="13" y="23" width="1" height="1"/><circle cx="13.5" cy="23.5" r="0.1534"/></g>
<g id="c-14-21"><rect class="L" x="14" y="21" width="1" height="3"/><circle cx="14.5" cy="22.5" r="0.1534"/></g>
<g id="c-15-21"><rect class="L" x="15" y="21" width="1" height="3"/><circle cx="15.5" cy="22.5" r="0.1534"/></g>
<g id="c-16-21"><rect class="L" x="16" y="21" width="1" height="1"/><circle cx="16.5" cy="21.5" r="0.1534"/></g>
<g id="c-16-22"><rect class="L" x="16" y="22" width="1" height="1"/><circle cx="16.5" cy="22.5" r="0.1534"/></g>
<g id="c-16-23"><rect class="L" x="16" y="23" width="1" height="1"/><circle cx="16.5" cy="23.5" r="0.1534"/></g>
<g id="c-17-21"><rect class="L" x="17" y="21" width="1" height="3"/><circle cx="17.5" cy="22.5" r="0.1534"/></g>
<g id="c-18-21"><rect class="L" x="18" y="21" width="3" height="3"/><circle cx="19.5" cy="22.5" r="0.1534"/></g>
<g id="c-21-21"><rect class="D" x="21" y="21" width="1" height="1"/><circle cx="21.5" cy="21.5" r="0.1534"/></g>
<g id="c-21-22"><rect class="D" x="21" y="22" width="1" height="1"/><circle cx="21.5" cy="22.5" r="0.1534"/></g>
<g id="c-21-23"><rect class="D" x="21" y="23" width="1" height="1"/><circle cx="21.5" cy="23.5" r="0.1534"/></g>
<g id="c-22-21"><rect class="D" x="22" y="21" width="1" height="1"/><circle cx="22.5" cy="21.5" r="0.1534"/></g>
<g id="c-22-22"><rect class="D" x="22" y="22" width="1" height="1"/><circle cx="22.5" cy="22.5" r="0.1534"/></g>
<g id="c-22-23"><rect class="L" x="22" y="23" width="1" height="1"/><circle cx="22.5" cy="23.5" r="0.1534"/></g>
<g id="c-23-21"><rect class="L" x="23" y="21" width="1" height="3"/><circle cx="23.5" cy="22.5" r="0.1534"/></g>
<g id="c-24-21"><rect class="L" x="24" y="21" width="3" height="3"/><circle cx="25.5" cy="22.5" r="0.1534"/></g>
<!-- big row 8 -->
<g id="c-0-24"><rect class="L" x="0" y="24" width="3" height="3"/><circle cx="1.5" cy="25.5" r="0.1534"/></g>
<g id="c-3-24"><rect class="L" x="3" y="24" width="1" height="3"/><circle cx="3.5" cy="25.5" r="0.1534"/></g>
<g id="c-4-24"><rect class="L" x="4" y="24" width="1" height="1"/><circle cx="4.5" cy="24.5" r="0.1534"/></g>
<g id="c-4-25"><rect class="L" x="4" y="25" width="1" height="1"/><circle cx="4.5" cy="25.5" r="0.1534"/></g>
<g id="c-4-26"><rect class="L" x="4" y="26" width="1" height="1"/><circle cx="4.5" cy="26.5" r="0.1534"/></g>
<g id="c-5-24"><rect class="L" x="5" y="24" width="1" height="3"/><circle cx="5.5" cy="25.5" r="0.1534"/></g>
<g id="c-6-24"><rect class="L" x="6" y="24" width="1" height="3"/><circle cx="6.5" cy="25.5" r="0.1534"/></g>
<g id="c-7-24"><rect class="L" x="7" y="24" width="1" height="1"/><circle cx="7.5" cy="24.5" r="0.1534"/></g>
<g id="c-7-25"><rect class="L" x="7" y="25" width="1" height="1"/><circle cx="7.5" cy="25.5" r="0.1534"/></g>
<g id="c-7-26"><rect class="L" x="7" y="26" width="1" height="1"/><circle cx="7.5" cy="26.5" r="0.1534"/></g>
<g id="c-8-24"><rect class="L" x="8" y="24" width="1" height="3"/><circle cx="8.5" cy="25.5" r="0.1534"/></g>
<g id="c-9-24"><rect class="L" x="9" y="24" width="1" height="3"/><circle cx="9.5" cy="25.5" r="0.1534"/></g>
<g id="c-10-24"><rect class="D" x="10" y="24" width="1" height="1"/><circle cx="10.5" cy="24.5" r="0.1534"/></g>
<g id="c-10-25"><rect class="D" x="10" y="25" width="1" height="1"/><circle cx="10.5" cy="25.5" r="0.1534"/></g>
<g id="c-10-26"><rect class="L" x="10" y="26" width="1" height="1"/><circle cx="10.5" cy="26.5" r="0.1534"/></g>
<g id="c-11-24"><rect class="D" x="11" y="24" width="1" height="3"/><circle cx="11.5" cy="25.5" r="0.1534"/></g>
<g id="c-12-24"><rect class="D" x="12" y="24" width="1" height="3"/><circle cx="12.5" cy="25.5" r="0.1534"/></g>
<g id="c-13-24"><rect class="D" x="13" y="24" width="1" height="1"/><circle cx="13.5" cy="24.5" r="0.1534"/></g>
<g id="c-13-25"><rect class="D" x="13" y="25" width="1" height="1"/><circle cx="13.5" cy="25.5" r="0.1534"/></g>
<g id="c-13-26"><rect class="L" x="13" y="26" width="1" height="1"/><circle cx="13.5" cy="26.5" r="0.1534"/></g>
<g id="c-14-24"><rect class="D" x="14" y="24" width="1" height="1"/><circle cx="14.5" cy="24.5" r="0.1534"/></g>
<g id="c-14-25"><rect class="D" x="14" y="25" width="1" height="1"/><circle cx="14.5" cy="25.5" r="0.1534"/></g>
<g id="c-14-26"><rect class="L" x="14" y="26" width="1" height="1"/><circle cx="14.5" cy="26.5" r="0.1534"/></g>
<g id="c-15-24"><rect class="D" x="15" y="24" width="1" height="1"/><circle cx="15.5" cy="24.5" r="0.1534"/></g>
<g id="c-15-25"><rect class="D" x="15" y="25" width="1" height="1"/><circle cx="15.5" cy="25.5" r="0.1534"/></g>
<g id="c-15-26"><rect class="L" x="15" y="26" width="1" height="1"/><circle cx="15.5" cy="26.5" r="0.1534"/></g>
<g id="c-16-24"><rect class="D" x="16" y="24" width="1" height="1"/><circle cx="16.5" cy="24.5" r="0.1534"/></g>
<g id="c-16-25"><rect class="D" x="16" y="25" width="1" height="1"/><circle cx="16.5" cy="25.5" r="0.1534"/></g>
<g id="c-16-26"><rect class="L" x="16" y="26" width="1" height="1"/><circle cx="16.5" cy="26.5" r="0.1534"/></g>
<g id="c-17-24"><rect class="L" x="17" y="24" width="1" height="3"/><circle cx="17.5" cy="25.5" r="0.1534"/></g>
<g id="c-18-24"><rect class="D" x="18" y="24" width="3" height="1"/><circle cx="19.5" cy="24.5" r="0.1534"/></g>
<g id="c-18-25"><rect class="L" x="18" y="25" width="1" height="1"/><circle cx="18.5" cy="25.5" r="0.1534"/></g>
<g id="c-19-25"><rect class="L" x="19" y="25" width="1" height="1"/><circle cx="19.5" cy="25.5" r="0.1534"/></g>
<g id="c-20-25"><rect class="L" x="20" y="25" width="1" height="1"/><circle cx="20.5" cy="25.5" r="0.1534"/></g>
<g id="c-18-26"><rect class="L" x="18" y="26" width="3" height="1"/><circle cx="19.5" cy="26.5" r="0.1534"/></g>
<g id="c-21-24"><rect class="L" x="21" y="24" width="1" height="3"/><circle cx="21.5" cy="25.5" r="0.1534"/></g>
<g id="c-22-24"><rect class="L" x="22" y="24" width="1" height="1"/><circle cx="22.5" cy="24.5" r="0.1534"/></g>
<g id="c-22-25"><rect class="L" x="22" y="25" width="1" height="1"/><circle cx="22.5" cy="25.5" r="0.1534"/></g>
<g id="c-22-26"><rect class="L" x="22" y="26" width="1" height="1"/><circle cx="22.5" cy="26.5" r="0.1534"/></g>
<g id="c-23-24"><rect class="L" x="23" y="24" width="1" height="3"/><circle cx="23.5" cy="25.5" r="0.1534"/></g>
<g id="c-24-24"><rect class="L" x="24" y="24" width="3" height="3"/><circle cx="25.5" cy="25.5" r="0.1534"/></g>
</g>
</svg>
